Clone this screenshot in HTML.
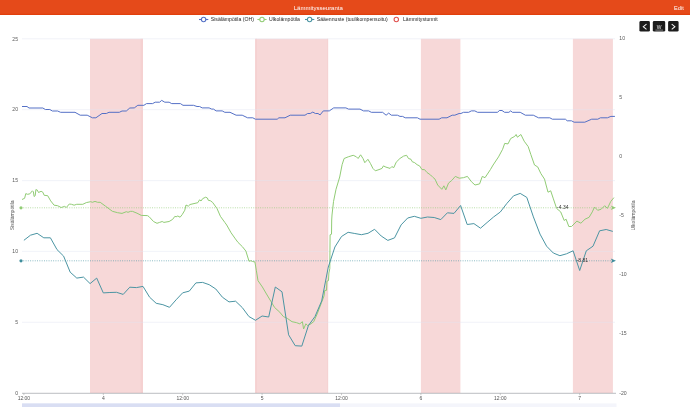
<!DOCTYPE html>
<html lang="fi"><head><meta charset="utf-8"><title>Lämmitysseuranta</title>
<style>
html,body{margin:0;padding:0;background:#fff;}
body{width:690px;height:407px;overflow:hidden;font-family:"Liberation Sans",sans-serif;}
svg{display:block;}
text{font-family:"Liberation Sans",sans-serif;}
</style></head><body>
<svg width="690" height="407" viewBox="0 0 690 407">
<rect x="0" y="0" width="690" height="407" fill="#ffffff"/>
<rect x="0" y="0" width="690" height="15" fill="#e13f0c"/>
<rect x="0" y="0" width="690" height="13.8" fill="#e54a1a"/>
<text x="318.3" y="10.2" font-size="6" fill="#ffffff" text-anchor="middle">Lämmitysseuranta</text>
<text x="683.7" y="10" font-size="5.6" fill="#ffffff" text-anchor="end">Edit</text>

<g font-size="5.15" fill="#1f1f1f">
<g stroke="#5470c6" stroke-width="1.1" fill="#fff"><line x1="199" y1="19.5" x2="208.3" y2="19.5"/><circle cx="203.6" cy="19.5" r="2.2"/></g>
<text x="210.8" y="21.3">Sisälämpötila (OH)</text>
<g stroke="#91cc75" stroke-width="1.1" fill="#fff"><line x1="257.4" y1="19.5" x2="266.6" y2="19.5"/><circle cx="262" cy="19.5" r="2.2"/></g>
<text x="269" y="21.3">Ulkolämpötila</text>
<g stroke="#4b95a3" stroke-width="1.1" fill="#fff"><line x1="305" y1="19.5" x2="314.3" y2="19.5"/><circle cx="309.6" cy="19.5" r="2.2"/></g>
<text x="316.8" y="21.3">Sääennuste (tuulikompensoitu)</text>
<circle cx="396.3" cy="19.5" r="2.2" fill="#fff" stroke="#e0524f" stroke-width="1.1"/>
<text x="403" y="21.3">Lämmitystunnit</text>
</g>

<g>
<rect x="639.4" y="21.1" width="10.5" height="10.5" rx="1.4" fill="#1c1c1c"/>
<rect x="652.8" y="21.1" width="12.4" height="10.5" rx="1.4" fill="#1c1c1c"/>
<rect x="668.1" y="21.1" width="10.5" height="10.5" rx="1.4" fill="#1c1c1c"/>
<polyline points="646.5,24.1 643.3,26.7 646.5,29.3" fill="none" stroke="#f4f4f4" stroke-width="1.05"/>
<polyline points="671.7,24.1 674.9,26.7 671.7,29.3" fill="none" stroke="#f4f4f4" stroke-width="1.05"/>
<text x="659.1" y="28.8" font-size="5" fill="#e8e8e8" text-anchor="middle">W</text>
<line x1="655.4" y1="30.1" x2="663" y2="30.1" stroke="#e0e0e0" stroke-width="0.5"/>
</g>

<rect x="90" y="38.8" width="53" height="354.2" fill="#f7d8d8"/>
<rect x="255.2" y="38.8" width="72.90000000000003" height="354.2" fill="#f7d8d8"/>
<rect x="420.9" y="38.8" width="39.5" height="354.2" fill="#f7d8d8"/>
<rect x="572.9" y="38.8" width="40.0" height="354.2" fill="#f7d8d8"/>
<rect x="140.5" y="38.8" width="2.5" height="354.2" fill="#f5d1d1"/>
<rect x="255.2" y="38.8" width="1.8" height="354.2" fill="#f5d1d1"/>
<rect x="327" y="38.8" width="1.1" height="354.2" fill="#f5d3d3"/>
<line x1="22" y1="38.8" x2="615" y2="38.8" stroke="#dfe4f2" stroke-opacity="0.75" stroke-width="0.6"/>
<line x1="22" y1="109.7" x2="615" y2="109.7" stroke="#dfe4f2" stroke-opacity="0.75" stroke-width="0.6"/>
<line x1="22" y1="180.6" x2="615" y2="180.6" stroke="#dfe4f2" stroke-opacity="0.75" stroke-width="0.6"/>
<line x1="22" y1="251.4" x2="615" y2="251.4" stroke="#dfe4f2" stroke-opacity="0.75" stroke-width="0.6"/>
<line x1="22" y1="322.3" x2="615" y2="322.3" stroke="#dfe4f2" stroke-opacity="0.75" stroke-width="0.6"/>
<line x1="22" y1="393.3" x2="616" y2="393.3" stroke="#9ea2a8" stroke-width="0.7"/>
<line x1="23.9" y1="393.3" x2="23.9" y2="395.2" stroke="#9a9a9a" stroke-width="0.5"/>
<line x1="103.3" y1="393.3" x2="103.3" y2="395.2" stroke="#9a9a9a" stroke-width="0.5"/>
<line x1="182.7" y1="393.3" x2="182.7" y2="395.2" stroke="#9a9a9a" stroke-width="0.5"/>
<line x1="262.1" y1="393.3" x2="262.1" y2="395.2" stroke="#9a9a9a" stroke-width="0.5"/>
<line x1="341.5" y1="393.3" x2="341.5" y2="395.2" stroke="#9a9a9a" stroke-width="0.5"/>
<line x1="420.9" y1="393.3" x2="420.9" y2="395.2" stroke="#9a9a9a" stroke-width="0.5"/>
<line x1="500.3" y1="393.3" x2="500.3" y2="395.2" stroke="#9a9a9a" stroke-width="0.5"/>
<line x1="579.7" y1="393.3" x2="579.7" y2="395.2" stroke="#9a9a9a" stroke-width="0.5"/>
<g font-size="5" fill="#555555" text-anchor="middle">
<text x="23.9" y="400.4">12:00</text>
<text x="103.3" y="400.4">4</text>
<text x="182.7" y="400.4">12:00</text>
<text x="262.1" y="400.4">5</text>
<text x="341.5" y="400.4">12:00</text>
<text x="420.9" y="400.4">6</text>
<text x="500.3" y="400.4">12:00</text>
<text x="579.7" y="400.4">7</text>
</g>
<g font-size="5.1" fill="#5a5a5a" text-anchor="end">
<text x="18" y="40.6">25</text>
<text x="18" y="111.1">20</text>
<text x="18" y="182.0">15</text>
<text x="18" y="252.9">10</text>
<text x="18" y="323.8">5</text>
<text x="18" y="394.6">0</text>
</g>
<g font-size="5.15" fill="#5a5a5a" text-anchor="start">
<text x="619.3" y="40.1">10</text>
<text x="619.3" y="99.2">5</text>
<text x="619.3" y="158.2">0</text>
<text x="619.3" y="217.2">-5</text>
<text x="619.3" y="276.3">-10</text>
<text x="619.3" y="335.3">-15</text>
<text x="619.3" y="394.5">-20</text>
</g>
<text transform="translate(14.2,215.3) rotate(-90)" font-size="5" fill="#555" text-anchor="middle">Sisälämpötila</text>
<text transform="translate(634.8,215.6) rotate(-90)" font-size="5" fill="#555" text-anchor="middle">Ulkolämpötila</text>
<line x1="21" y1="207.8" x2="611" y2="207.8" stroke="#91cc75" stroke-width="0.7" stroke-dasharray="0.9 1.4"/>
<circle cx="21" cy="207.8" r="1.6" fill="#91cc75"/>
<polygon points="610.8,205.6 616,207.8 610.8,210 612,207.8" fill="#91cc75"/>
<line x1="21" y1="260.8" x2="611" y2="260.8" stroke="#4b95a3" stroke-width="0.7" stroke-dasharray="0.9 1.4"/>
<circle cx="21" cy="260.8" r="1.6" fill="#3f8d9c"/>
<polygon points="610.8,258.6 616,260.8 610.8,263 612,260.8" fill="#3f8d9c"/>
<polyline points="22.0,106.5 27.0,106.5 29.0,108.0 42.8,108.0 45.4,109.5 49.8,109.5 52.4,111.0 57.6,111.0 60.6,112.3 75.0,112.3 80.2,115.2 87.2,115.2 92.4,117.8 95.9,117.8 102.0,113.5 106.3,113.5 109.0,112.3 119.3,112.3 122.0,111.0 126.3,111.0 129.8,108.0 134.3,107.9 137.8,105.3 143.9,105.3 146.5,103.6 152.6,103.6 155.2,102.2 159.6,102.2 161.7,100.4 164.8,102.2 169.1,102.2 171.7,103.6 180.4,103.6 183.0,105.3 193.5,105.3 197.0,106.5 199.6,106.5 202.2,107.9 209.1,107.9 211.7,109.1 213.5,109.1 216.1,110.9 222.2,110.9 224.8,112.3 230.0,112.3 236.1,115.2 242.2,115.2 247.6,117.8 252.8,117.8 255.4,119.2 277.2,119.2 278.9,117.8 285.0,117.8 290.2,115.2 305.0,115.2 307.6,113.5 310.2,113.5 312.8,112.1 315.4,113.5 318.0,113.5 320.1,114.9 323.3,110.9 329.3,110.9 333.7,107.9 345.9,107.9 348.5,109.1 360.0,109.1 363.5,110.9 368.7,110.9 371.3,112.3 382.6,112.3 386.1,115.2 388.7,113.1 391.3,115.2 397.4,115.2 400.0,116.4 402.6,116.4 405.2,117.8 417.4,117.8 420.0,119.2 439.1,119.2 441.7,117.8 447.0,117.8 452.2,115.2 454.8,115.2 459.1,113.5 460.9,113.5 463.5,112.3 468.7,112.3 471.3,110.9 474.8,110.9 477.6,112.3 497.6,112.3 499.3,110.5 502.0,110.5 504.6,112.3 508.9,112.3 510.7,110.9 512.4,112.3 520.2,112.3 525.4,115.2 533.3,115.2 538.5,117.8 549.8,117.8 552.4,119.2 565.4,119.2 567.2,120.8 571.5,120.8 574.1,122.2 584.8,122.2 591.7,119.2 597.8,119.2 600.4,117.8 607.4,117.8 610.9,116.4 614.9,116.4" fill="none" stroke="#5470c6" stroke-width="1" stroke-linejoin="round"/>
<polyline points="22.0,199.5 24.6,198.3 25.8,193.6 27.5,194.3 29.8,193.9 32.4,190.8 33.4,191.8 34.1,196.5 35.2,195.7 35.9,189.6 37.3,190.1 38.5,192.5 41.1,191.3 42.8,192.2 44.2,195.3 47.7,195.7 50.7,200.9 54.1,205.2 57.6,205.7 61.1,207.5 64.6,206.4 66.3,207.5 69.3,204.0 71.5,204.3 74.1,205.2 76.7,204.3 82.8,204.3 86.3,202.6 90.7,201.7 92.4,202.3 95.0,201.4 97.6,202.3 100.2,202.3 105.4,206.1 112.4,211.3 117.6,212.7 122.0,213.4 126.3,211.7 128.0,212.3 130.7,211.3 132.6,211.4 137.0,213.2 141.3,215.4 147.4,215.6 149.1,216.7 153.5,221.5 157.0,223.3 159.6,222.4 162.2,221.5 163.9,222.4 169.1,221.5 172.6,219.4 174.9,216.3 176.1,216.8 177.8,216.0 180.1,217.2 182.2,214.6 184.8,210.2 186.0,205.0 188.3,206.2 190.0,204.5 197.8,202.7 199.6,199.8 201.0,201.0 202.7,198.6 205.7,197.2 207.4,198.0 208.3,200.3 210.3,200.7 212.6,202.4 217.0,208.5 220.4,216.3 224.8,222.4 226.7,225.0 231.1,232.8 235.4,238.9 238.0,242.4 242.4,246.7 245.9,251.1 249.0,261.2 251.1,260.7 252.5,261.5 254.9,261.9 256.3,270.2 258.0,280.7 262.4,287.0 265.9,293.0 271.1,301.7 274.6,307.5 279.8,312.2 283.3,316.5 287.6,318.6 292.0,321.7 296.3,322.6 299.8,323.8 302.4,321.7 303.6,329.0 305.9,323.8 307.6,325.6 310.2,324.3 313.7,321.7 317.2,313.9 321.5,302.6 324.1,295.7 324.7,290.5 326.5,290.3 326.9,281.2 328.5,280.6 328.9,273.0 329.8,268.5 330.1,234.8 331.5,234.2 331.7,220.0 332.0,215.0 333.5,201.6 336.0,189.3 339.7,177.0 342.1,164.7 344.1,158.5 348.3,156.8 353.2,155.3 356.4,156.8 358.1,158.5 360.6,154.8 363.0,158.5 364.8,162.7 367.9,159.3 370.4,163.4 372.9,168.4 375.3,170.8 379.0,169.6 382.0,168.4 383.4,165.9 385.9,167.1 390.1,168.4 391.8,166.6 393.8,167.6 396.2,162.2 399.9,158.5 403.6,156.1 406.6,155.3 408.5,158.5 411.0,159.3 412.2,161.7 414.7,162.7 417.1,164.7 419.6,165.9 422.0,169.6 424.5,169.6 427.0,172.5 430.6,175.0 433.1,177.5 435.0,179.1 437.7,185.0 441.8,189.3 443.9,185.8 445.8,189.9 448.5,183.1 451.8,180.4 455.3,176.4 459.3,178.2 463.4,177.7 467.4,176.4 471.5,181.8 475.0,185.0 479.6,183.9 482.3,176.4 485.0,177.7 490.4,169.6 493.1,165.0 498.5,156.9 502.6,149.3 504.7,143.4 508.0,143.9 510.7,138.5 514.7,136.4 516.1,134.5 517.4,137.2 520.9,134.5 524.2,141.2 528.2,146.6 530.9,154.7 534.5,165.0 537.7,166.9 540.9,173.6 544.5,179.1 548.0,192.2 550.7,190.8 553.4,198.9 556.6,208.4 560.7,211.9 564.2,220.5 566.1,219.2 568.8,226.5 571.5,226.5 576.9,221.1 580.9,223.2 585.0,219.2 589.1,217.3 592.3,211.9 594.5,207.0 597.7,210.3 601.2,209.2 604.7,205.7 607.4,208.4 610.7,201.6 613.9,197.6" fill="none" stroke="#91cc75" stroke-width="1" stroke-linejoin="round"/>
<polyline points="23.9,240.3 30.5,235.2 37.1,233.3 43.8,237.8 50.4,237.8 57.0,249.6 63.6,256.1 70.2,272.2 76.8,278.1 83.5,277.1 90.1,283.6 96.7,278.1 103.3,292.9 109.9,292.5 116.5,292.3 123.2,294.4 129.8,287.2 136.4,287.6 143.0,286.4 149.6,297.2 156.2,303.3 162.9,304.7 169.5,307.3 176.1,299.8 182.7,292.8 189.3,291.1 195.9,282.9 202.6,282.4 209.2,284.7 215.8,289.0 222.4,297.2 229.0,301.9 235.6,301.2 242.3,307.6 248.9,316.5 255.5,320.3 262.1,316.0 268.7,317.0 275.3,287.0 282.0,291.8 288.6,334.8 295.2,345.7 301.8,346.1 308.4,325.6 315.0,316.5 321.7,300.9 328.3,267.0 334.9,247.0 341.5,236.5 348.1,232.3 354.8,233.5 361.4,234.7 368.0,233.3 374.6,229.3 381.2,236.0 387.8,240.4 394.5,237.9 401.1,224.9 407.7,218.0 414.3,216.3 420.9,218.3 427.5,217.0 434.2,217.5 440.8,219.6 447.4,212.8 454.0,213.4 460.6,205.5 467.2,224.5 473.9,223.6 480.5,228.2 487.1,222.5 493.7,216.9 500.3,212.0 506.9,203.4 513.6,195.8 520.2,193.4 526.8,197.4 533.4,216.9 540.0,234.1 546.6,246.2 553.3,253.0 559.9,255.7 566.5,253.8 573.1,250.8 579.7,270.5 586.3,250.8 593.0,246.2 599.6,230.8 606.2,229.5 612.8,231.4" fill="none" stroke="#4b95a3" stroke-width="1" stroke-linejoin="round"/>
<text x="562.8" y="209.4" font-size="5" fill="#333" text-anchor="middle">-4.34</text>
<text x="582.3" y="262.4" font-size="5" fill="#333" text-anchor="middle">-8.81</text>
<rect x="22" y="403.4" width="594.5" height="3.6" fill="#f4f5fb"/>
<rect x="22" y="403.4" width="318" height="3.6" fill="#d9def3"/>
</svg></body></html>
